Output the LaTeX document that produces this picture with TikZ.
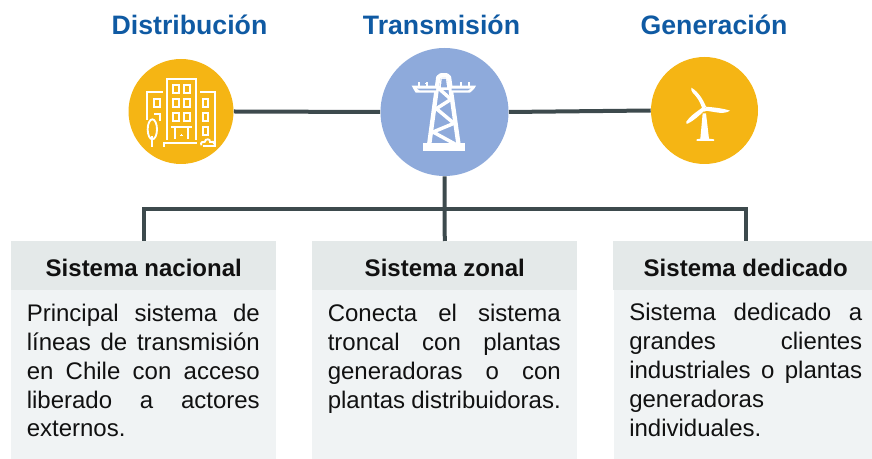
\documentclass[tikz,border=0pt]{standalone}
\usepackage{fontspec}
\setmainfont{Liberation Sans}
\definecolor{ygold}{HTML}{F5B514}
\definecolor{cblue}{HTML}{8EAADB}
\definecolor{ttl}{HTML}{0F5AA3}
\definecolor{hdr}{HTML}{E4E9E9}
\definecolor{bdy}{HTML}{F0F3F4}
\definecolor{wire}{HTML}{3D4A4D}
\definecolor{ink}{HTML}{111111}
\newcommand{\jl}[1]{\makebox[174.75pt][s]{#1}\par}
\newcommand{\pl}[1]{\mbox{#1}\par}
\tikzset{
  circ/.style={circle,inner sep=0pt,minimum size=#1*0.75pt},
  titletext/.style={anchor=base,text=ttl,font=\fontsize{20}{24}\selectfont\bfseries},
  hdrbox/.style={anchor=north west,fill=hdr,inner sep=0pt,minimum height=36.75pt,minimum width=198.75pt,text=ink,text height=15.75pt,text depth=0pt,font=\fontsize{18}{21}\selectfont\bfseries},
  bdybox/.style={anchor=north west,fill=bdy,inner sep=0pt,minimum height=126.75pt,minimum width=198.75pt},
  bodytext/.style={anchor=base west,inner sep=0pt,text=ink},
  wireline/.style={draw=wire,line width=3pt},
  ico/.style={draw=white,line width=1.4pt,line cap=butt,line join=miter},
  win/.style={draw=white,line width=1.4pt},
  zoomed/.style={x=0.25pt,y=-0.25pt},
}
\begin{document}
\begin{tikzpicture}[x=0.75pt,y=-0.75pt]
\useasboundingbox (0,0) rectangle (872,459);
% boxes
\node[bdybox] (bn) at (11,290) {};
\node[bdybox] (bz) at (312,290) {};
\node[bdybox] (bd) at (614,290) {};
\node[hdrbox] (hn) at (11,241) {Sistema nacional};
\node[hdrbox] (hz) at (312,241) {Sistema zonal};
\node[hdrbox] (hd) at (613,241) {Sistema dedicado};
% circles
\node[circ=105,fill=ygold] (dist) at (181,111.5) {};
\node[circ=128,fill=cblue] (trans) at (444.5,112) {};
\node[circ=107,fill=ygold] (gen) at (704.5,110.5) {};
% connectors
\coordinate (busL) at (144,209);
\coordinate (busR) at (745.5,209);
\coordinate (dropL) at (144,241);
\coordinate (dropR) at (745.5,241);
\draw[wireline] (dist.east) -- (trans.west);
\draw[wireline] (trans.east) -- (gen.west);
\draw[wireline] (trans.south) -- (hz.north);
\draw[wireline] (dropL) -- (busL) -- (busR) -- (dropR);
% titles
\node[titletext] (t1) at (189.5,34.5) {Distribución};
\node[titletext] (t2) at (441.5,34.5) {Transmisión};
\node[titletext] (t3) at (714,34.5) {Generación};
% body texts
\node[bodytext] (x1) at (26.5,321.7) {\parbox[t]{174.75pt}{\fontsize{18}{21.6}\selectfont
\jl{Principal sistema de}\jl{líneas de transmisión}\jl{en Chile con acceso}\jl{liberado a actores}\pl{externos.}}};
\node[bodytext] (x2) at (327.5,321.7) {\parbox[t]{174.75pt}{\fontsize{18}{21.6}\selectfont
\jl{Conecta el sistema}\jl{troncal con plantas}\jl{generadoras o con}\jl{plantas distribuidoras.}}};
\node[bodytext] (x3) at (629,321) {\parbox[t]{174.75pt}{\fontsize{18}{21.6}\selectfont
\jl{Sistema dedicado a}\jl{grandes clientes}\jl{industriales o plantas}\pl{generadoras}\pl{individuales.}}};
% building icon
\begin{scope}[shift={(120,40)},zoomed]
\draw[ico] (140,300) -- (140,118) -- (228,118) -- (228,300);
\foreach \xx in {158,192}\foreach \yy in {135,176,218}
  \draw[win] (\xx,\yy) rectangle ++(18,24);
\draw[ico] (82,240) -- (82,155) -- (130,155);
\draw[win] (103,177) rectangle ++(18,24);
\draw[win] (103,222) -- (121,222) -- (121,243);
\draw[ico] (97,268) ellipse (14 and 30);
\draw[ico] (97,288) -- (97,320);
\draw[ico] (153,262) -- (217,262);
\draw[ico] (165,262) -- (165,298);
\draw[ico] (205,262) -- (205,298);
\draw[white,line width=.5pt] (181,285) -- (189,285) (185,281) -- (185,289);
\draw[ico] (132,321) -- (132,310) -- (232,310);
\draw[ico] (240,155) -- (285,155) -- (285,318) -- (248,318);
\foreach \yy in {177,219,262}
  \draw[win] (248,\yy) rectangle ++(17,24);
\draw[ico] (244,316) .. controls (240,306) and (250,304) .. (254,306)
  .. controls (256,294) and (272,296) .. (270,306) .. controls (276,303) and (284,306) .. (283,312);
\end{scope}
% tower icon
\begin{scope}[shift={(375,40)},zoomed]
\fill[white] (145,308) rectangle (269,332);
\draw[white,line width=3.3pt,line join=round] (163,310) -- (190,112) -- (198,106) -- (215,106) -- (222,112) -- (250,310);
\fill[white] (110,137) -- (303,137) -- (297,147) -- (285,158) -- (228,158) -- (228,148) -- (185,148) -- (185,158) -- (122,158) -- (116,148) -- cycle;
\fill[cblue] (126,146) -- (183,146) -- (183,151) -- (134,151) -- cycle;
\fill[cblue] (230,146) -- (287,146) -- (279,151) -- (230,151) -- cycle;
\fill[white] (197,112) -- (216,112) -- (222,150) -- (192,150) -- cycle;
\fill[cblue] (200,117) -- (213,117) -- (216,142) -- (198,142) -- cycle;
\draw[white,line width=2.6pt,line join=miter] (193,147) -- (228,178) -- (184,206) -- (237,250) -- (174,276) -- (240,312);
\foreach \xx in {132,155,258,282}
  \draw[white,line width=1.4pt] (\xx,138) -- (\xx,126);
\foreach \xx in {132,155,258,282}
  \fill[white] (\xx-4,130) rectangle (\xx+4,133);
\end{scope}
% turbine icon
\begin{scope}[shift={(640,50)},zoomed]
\fill[white] (188,190) -- (198,190) -- (207,266) -- (222,268) -- (222,273) -- (170,273) -- (170,268) -- (181,266) -- cycle;
\fill[white] (198,170) .. controls (190,150) and (175,125) .. (154,113)
  .. controls (153,118) and (154,122) .. (158,128) .. controls (172,142) and (180,155) .. (187,176) -- cycle;
\fill[white] (197,170) .. controls (220,172) and (250,175) .. (270,182)
  .. controls (262,188) and (248,190) .. (235,188) .. controls (222,186) and (210,184) .. (197,182) -- cycle;
\fill[white] (188,172) .. controls (170,185) and (148,200) .. (139,215)
  .. controls (137,220) and (139,223) .. (143,221) .. controls (160,213) and (180,195) .. (193,182) -- cycle;
\fill[white] (193,178) circle (7);
\end{scope}
\end{tikzpicture}
\end{document}
